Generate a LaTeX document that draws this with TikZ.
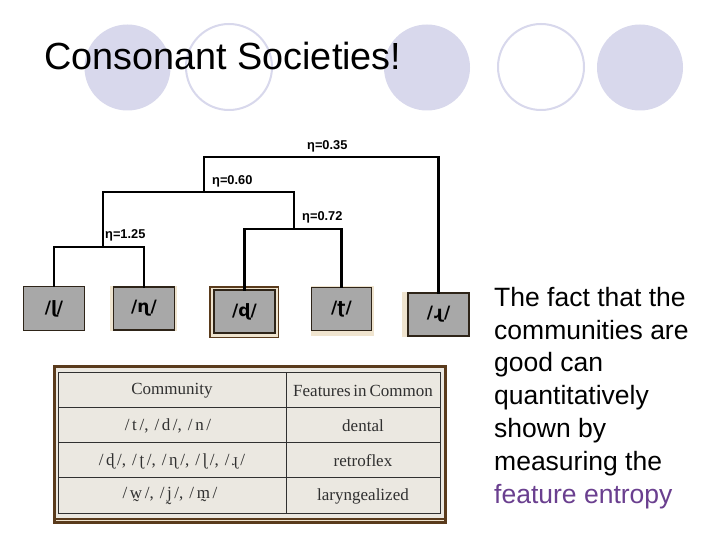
\documentclass[tikz,border=0pt]{standalone}
\usepackage{fontspec}
\setmainfont{Liberation Sans}
\newfontfamily\tabfont{Liberation Serif}
\newfontfamily\ipafont{DejaVu Sans}
\definecolor{lav}{HTML}{D8D8EC}
\definecolor{boxgray}{HTML}{A8A8A8}
\definecolor{boxedge}{HTML}{2E2418}
\definecolor{beige}{HTML}{EFE4CF}
\definecolor{frame}{HTML}{5A3B1C}
\definecolor{paper}{HTML}{EBE8E1}
\definecolor{celltext}{HTML}{303030}
\definecolor{purp}{HTML}{6A3F8F}
\newcommand\phon[1]{/\kern2.6pt #1\kern2.6pt/}
\newcommand\psep{,\hspace{6pt}}
\tikzset{
  circfill/.style={fill=lav, draw=none},
  circline/.style={draw=lav, line width=2pt, fill=white},
  phbox/.style={fill=boxgray, draw=boxedge, line width=1.4pt, minimum width=61pt, minimum height=43pt, inner sep=0pt, font=\ipafont\bfseries\fontsize{17}{18}\selectfont},
  treeline/.style={line width=2.7pt, line cap=rect, line join=miter},
  etalabel/.style={anchor=west, inner sep=0pt, font=\bfseries\fontsize{12.8}{13}\selectfont},
  cell/.style={inner sep=0pt, text=celltext, font=\tabfont\fontsize{17}{18}\selectfont},
  gridline/.style={draw=celltext, line width=0.8pt}
}
\begin{document}
\begin{tikzpicture}[x=1pt,y=-1pt]
\useasboundingbox[fill=white] (0,0) rectangle (720,540);
% decorative circles
\fill[circfill] (127.5,67.5) circle[radius=43];
\draw[circline] (229,67) circle[radius=43];
\fill[circfill] (427,67.5) circle[radius=43];
\draw[circline] (541,67) circle[radius=43];
\fill[circfill] (640,67.5) circle[radius=43];
% title
\node[anchor=base west, inner sep=0pt, font=\fontsize{37.8}{40}\selectfont] (title) at (44,70) {Consonant Societies!};

% phoneme boxes with frames
\fill[beige] (110,286) rectangle (177,331);
\fill[frame] (209,286) rectangle (279,338);
\fill[beige] (210.5,287.5) rectangle (277.5,336.5);
\fill[beige] (311,286) rectangle (374,336);
\fill[beige] (402,292) rectangle (470,337);
\node[phbox, minimum height=44pt] (b1) at (54,308.5) {/ɭ/};
\node[phbox] (b2) at (144,308.5) {/ɳ/};
\node[phbox] (b3) at (244.5,311.5) {/ɖ/};
\node[phbox, minimum width=60pt] (b4) at (341.5,309) {/ʈ/};
\node[phbox, minimum width=61pt] (b5) at (438.5,314.5) {/ɻ/};

% dendrogram
\coordinate (j125) at (103,247);
\coordinate (j072) at (294,229);
\coordinate (j060) at (204,192);
\coordinate (j035) at (322,157);
\draw[treeline] (b1.north) |- (j125) -| (b2.north);
\draw[treeline] (b3.north) |- (j072) -| (b4.north);
\draw[treeline] (j125) |- (j060) -| (j072);
\draw[treeline] (j060) |- (j035) -| (b5.north);
\node[etalabel] (l035) at (307,146) {η=0.35};
\node[etalabel] (l060) at (212,181) {η=0.60};
\node[etalabel] (l072) at (302,217) {η=0.72};
\node[etalabel] (l125) at (105,235) {η=1.25};

% table
\fill[frame] (53,365) rectangle (447,524);
\fill[paper] (56,368) rectangle (444,517.5);
\draw[beige, line width=1.2pt] (56,520.5) -- (444,520.5);
\draw[gridline] (58,372) rectangle (440,513);
\draw[gridline] (286,372) -- (286,513);
\draw[gridline] (58,407) -- (440,407);
\draw[gridline] (58,442) -- (440,442);
\draw[gridline] (58,477) -- (440,477);
\node[cell] (h1) at (172,391) {Community};
\node[cell] (h2) at (363,391) {Features\hspace{2.5pt}in\hspace{3pt}Common};
\node[cell] (r1a) at (168,426) {\phon{t}\psep\phon{d}\psep\phon{n}};
\node[cell] (r1b) at (363,426) {dental};
\node[cell] (r2a) at (172,461) {\phon{ɖ}\psep\phon{ʈ}\psep\phon{ɳ}\psep\phon{ɭ}\psep\phon{ɻ}};
\node[cell] (r2b) at (363,461) {retroflex};
\node[cell] (r3a) at (170,496) {\phon{w̰}\psep\phon{j̰}\psep\phon{m̰}};
\node[cell] (r3b) at (363,496) {laryngealized};

% side text
\node[anchor=base west, inner sep=0pt, align=left, font=\fontsize{26.5}{32.8}\selectfont] (side) at (494,503)
  {The fact that the\\communities are\\good can\\quantitatively\\shown by\\measuring the\\\textcolor{purp}{feature entropy}};
\end{tikzpicture}
\end{document}
